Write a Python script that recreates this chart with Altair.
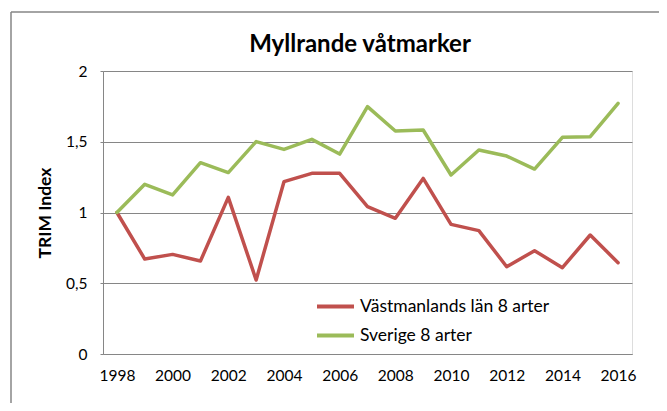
import altair as alt
import pandas as pd

years = list(range(1998, 2017))
vastmanland = [1.0, 0.671, 0.704, 0.657, 1.107, 0.523, 1.218, 1.277, 1.277, 1.041,
               0.959, 1.241, 0.916, 0.872, 0.617, 0.730, 0.610, 0.841, 0.645]
sverige = [1.0, 1.199, 1.124, 1.352, 1.282, 1.501, 1.446, 1.517, 1.413, 1.748,
           1.576, 1.583, 1.265, 1.442, 1.399, 1.307, 1.531, 1.536, 1.772]
series_names = ["Västmanlands län 8 arter", "Sverige 8 arter"]
series_colors = ["#C0504D", "#9BBB59"]
y_ticks = [0, 0.5, 1, 1.5, 2]
x_ticks = list(range(1998, 2017, 2))
title_text = "Myllrande våtmarker"
y_title = "TRIM Index"

df = pd.DataFrame({
    "year": years * 2,
    "value": vastmanland + sverige,
    "series": [series_names[0]] * len(years) + [series_names[1]] * len(years),
})

W, H = 529, 283
FONT = "Lato"
GRID = "#868686"
TXT = "#000000"

lines = alt.Chart(df).mark_line(strokeWidth=3.5, strokeCap="round", strokeJoin="round").encode(
    x=alt.X("year:Q",
            scale=alt.Scale(domain=[1997.5, 2016.5], nice=False, zero=False),
            axis=alt.Axis(values=x_ticks, format="d", title=None, ticks=False, grid=False,
                          domainColor=GRID, domainWidth=1, labelPadding=14, labelFontSize=15.5,
                          labelFont=FONT, labelColor=TXT)),
    y=alt.Y("value:Q",
            scale=alt.Scale(domain=[0, 2], nice=False),
            axis=alt.Axis(values=y_ticks,
                          labelExpr="replace(format(datum.value, ''), '.', ',')",
                          title=y_title, titleX=-58, titleY=H / 2, titleAngle=270,
                          titleAlign="center", titleBaseline="middle",
                          titleFontSize=17.5, titleFontWeight="bold", titleFont=FONT,
                          titleColor=TXT,
                          grid=True, gridColor=GRID, gridWidth=1,
                          domainColor=GRID, tickColor=GRID, tickSize=3,
                          labelPadding=13, labelFontSize=15.5, labelFont=FONT,
                          labelColor=TXT)),
    color=alt.Color("series:N",
                    scale=alt.Scale(domain=series_names, range=series_colors),
                    legend=alt.Legend(title=None, orient="none", legendX=212, legendY=215,
                                      symbolType="stroke", symbolSize=1369,
                                      symbolStrokeWidth=4, labelFontSize=17.5,
                                      labelFont=FONT, labelColor=TXT, labelOffset=4,
                                      labelLimit=0, rowPadding=-3, direction="vertical")),
)

frame_src = pd.DataFrame({"a": [0]})
frame_top = alt.Chart(frame_src).mark_rule(color=GRID, strokeWidth=1.5).encode(
    x=alt.value(-92), x2=alt.value(560), y=alt.value(-59))
frame_left = alt.Chart(frame_src).mark_rule(color=GRID, strokeWidth=1.5).encode(
    x=alt.value(-92), y=alt.value(-59), y2=alt.value(340))

title_mark = alt.Chart(pd.DataFrame({"t": [title_text]})).mark_text(
    fontSize=24, fontWeight="bold", font=FONT, color=TXT, align="center", baseline="middle"
).encode(text="t:N", x=alt.value(257), y=alt.value(-26))

chart = alt.layer(frame_top, frame_left, title_mark, lines).properties(
    width=W, height=H,
    autosize="none",
    padding={"left": 95, "top": 63, "right": 27, "bottom": 49},
).configure_view(stroke=None).configure(background="white")

chart.save("out.html", embed_options={"renderer": "svg", "actions": False})
